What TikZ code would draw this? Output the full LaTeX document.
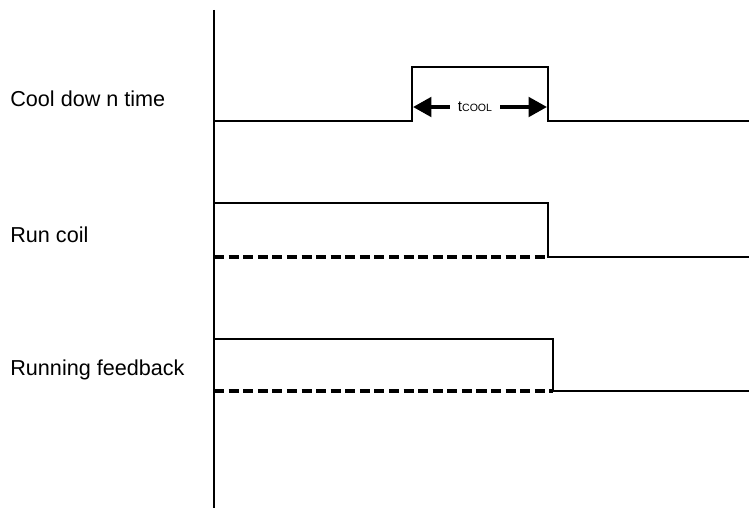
\documentclass[tikz,border=0pt]{standalone}
\usepackage{fontspec}
\setmainfont{Liberation Sans}
\usetikzlibrary{arrows.meta,positioning}

\begin{document}
\begin{tikzpicture}[x=0.02cm, y=-0.02cm]
                \tikzstyle{lbl} = [anchor=west, inner sep=0pt, font=\fontsize{12.3}{14}\selectfont]
                \tikzstyle{sig} = [line width=0.9pt]
                \tikzstyle{lo} = [line width=2pt, dash pattern=on 5.7pt off 2.6pt]
                \tikzstyle{dim} = [line width=2.3pt, -{Triangle[length=10.5pt, width=11pt]}]
                \useasboundingbox (0,0) rectangle (749,510);

                % time axis
                \coordinate (top) at (214,10);
                \coordinate (bot) at (214,508);
                \draw [sig] (top) -- (bot);

                \node [lbl] (cool) at (10,99) {Cool dow n time};
                \node [lbl] (run) at (10,235) {Run coil};
                \node [lbl] (fb) at (10,370) {Running feedback};

                % cool down pulse
                \draw [sig] (214,121) -- (412,121) -- (412,67) -- (548,67) -- (548,121) -- (749,121);
                \coordinate (rise) at (413,107);
                \coordinate (fall) at (547,107);
                \node [inner sep=0pt, minimum width=50*0.02cm, font=\fontsize{8.5}{9}\selectfont] (tc) at (475,107) {t{\fontsize{6}{6}\selectfont COOL}};
                \draw [dim] (tc) -- (rise);
                \draw [dim] (tc) -- (fall);

                % run coil
                \draw [sig] (214,203) -- (548,203) -- (548,257) -- (749,257);
                \draw [lo] (214,257) -- (548,257);

                % running feedback
                \draw [sig] (214,339) -- (553,339) -- (553,391) -- (749,391);
                \draw [lo] (214,391) -- (553,391);
            \end{tikzpicture}
\end{document}
